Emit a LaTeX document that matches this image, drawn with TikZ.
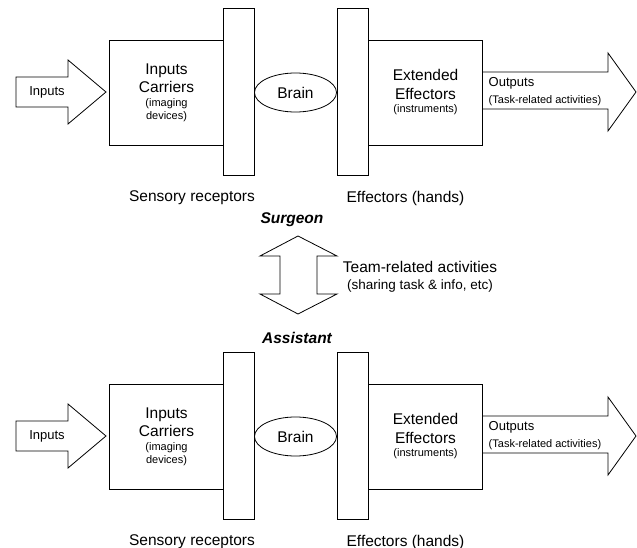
\documentclass[tikz,border=0pt]{standalone}
\usepackage{fontspec}
\setmainfont{Liberation Sans}
\usetikzlibrary{shapes.geometric}
\newcommand{\smf}{\fontsize{11}{13}\selectfont}
\newcommand{\mdf}{\fontsize{13.5}{15}\selectfont}

\begin{document}
\begin{tikzpicture}[x=1pt, y=-1pt, line width=0.8pt, align=center,
  every node/.style={font=\fontsize{15.5}{17.5}\selectfont}]
\tikzstyle{bx} = [rectangle, draw=black, minimum width=114pt, minimum height=105pt, inner sep=0pt]
\tikzstyle{rc} = [rectangle, draw=black, minimum width=31pt, minimum height=167pt]
\tikzstyle{br} = [ellipse, draw=black, minimum width=82pt, minimum height=39pt, inner sep=0pt]
\tikzstyle{ar} = [draw=black, line join=miter]
\tikzstyle{lb} = [font=\fontsize{13}{15}\selectfont]
\tikzstyle{bi} = [font=\fontsize{15.5}{17.5}\selectfont\bfseries\itshape]

\useasboundingbox (0,0) rectangle (637,548);

% one panel for the surgeon, one for the assistant
\foreach \y/\s in {0/a, 344/b} {
\begin{scope}[shift={(0,\y)}]
\node[rc](SR\s) at (238.5, 91.5) {};
\node[rc](EF\s) at (352.5, 91.5) {};
\node[bx](IC\s) at (166.5, 93) {Inputs\\Carriers\\[-3pt]\smf(imaging\\[-5pt]\smf devices)};
\node[bx](EE\s) at (425.5, 92.5) {Extended\\[1pt]Effectors\\[-4pt]\smf(instruments)};
\node[br](brain\s) at (295.5, 92.5) {Brain};

\draw[ar] (16,77) -- (68,77) -- (68,60) -- (106,92) -- (68,124) -- (68,107) -- (16,107) -- cycle;
\node[lb](in\s) at (47,92) {Inputs};
\draw[ar] (483,72) -- (608,72) -- (608,53) -- (636,92) -- (608,131) -- (608,109) -- (483,109);
\node[lb, anchor=west, align=left](out\s) at (485,92) {Outputs\\[2pt]\smf(Task-related activities)};

\node(sr\s) at (192,198) {Sensory receptors};
\node(ef\s) at (405.5,198) {Effectors (hands)};
\end{scope}
}

\node[bi](surgeon) at (292,220) {Surgeon};
\draw[ar] (298,236) -- (337,256) -- (317,256) -- (317,294) -- (337,294) -- (298,314)
  -- (260,294) -- (280,294) -- (280,256) -- (260,256) -- cycle;
\node(team) at (420,277) {Team-related activities\\\mdf(sharing task \& info, etc)};
\node[bi](assistant) at (297,338) {Assistant};
\end{tikzpicture}
\end{document}
